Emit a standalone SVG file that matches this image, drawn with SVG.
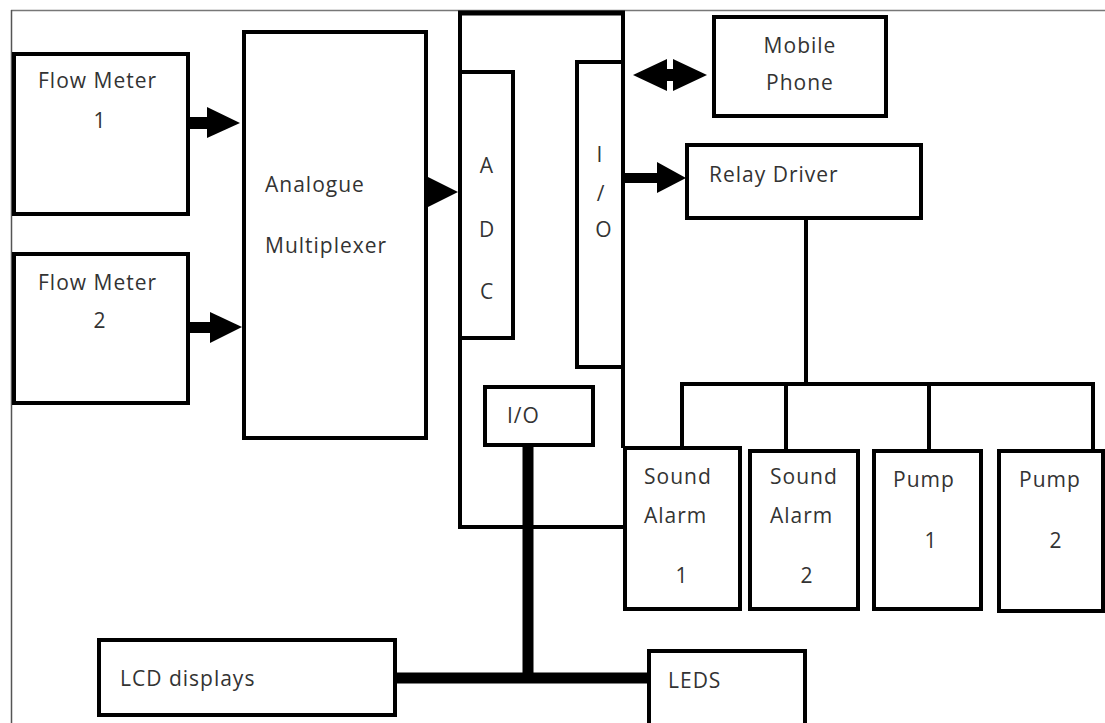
<svg xmlns="http://www.w3.org/2000/svg" width="1105" height="723" viewBox="0 0 1105 723">
<style>
  .box { fill: #ffffff; stroke: #000; stroke-width: 4; }
  .lbl { font-family: "Open Sans", "Noto Sans", sans-serif; font-size: 21px; fill: #333; letter-spacing: 1px; }
  .mid { text-anchor: middle; }
  .wire { fill: none; stroke: #000; stroke-width: 4; }
  .bus { fill: none; stroke: #000; stroke-width: 11; }
  .head { fill: #000; stroke: none; }
</style>
<rect x="0" y="0" width="1105" height="723" fill="#ffffff"/>
<g id="frame">
  <line x1="11" y1="10.5" x2="1105" y2="10.5" stroke="#777" stroke-width="1.5"/>
  <line x1="11.5" y1="10" x2="11.5" y2="723" stroke="#555" stroke-width="1.5"/>
</g>

<g id="controller">
  <path d="M623,448 V13 H460 V527 H623" fill="none" stroke="#000" stroke-width="4"/>
  <line x1="458" y1="13" x2="625" y2="13" stroke="#000" stroke-width="5"/>
</g>

<g id="flow-meter-1">
  <rect class="box" x="14" y="54" width="174" height="160"/>
  <text class="lbl" x="38" y="88">Flow Meter</text>
  <text class="lbl mid" x="100" y="128">1</text>
</g>
<g id="flow-meter-2">
  <rect class="box" x="14" y="254" width="174" height="149"/>
  <text class="lbl" x="38" y="290">Flow Meter</text>
  <text class="lbl mid" x="100" y="328">2</text>
</g>
<g id="analogue-multiplexer">
  <rect class="box" x="244" y="32" width="182" height="406"/>
  <text class="lbl" x="265" y="192">Analogue</text>
  <text class="lbl" x="265" y="253">Multiplexer</text>
</g>
<g id="adc">
  <rect class="box" x="460" y="72" width="53" height="266"/>
  <text class="lbl mid" x="487" y="173">A</text>
  <text class="lbl mid" x="487" y="237">D</text>
  <text class="lbl mid" x="487" y="299">C</text>
</g>
<g id="io-vertical">
  <rect class="box" x="577" y="62" width="46" height="305"/>
  <text class="lbl mid" x="600" y="162">I</text>
  <text class="lbl mid" x="601" y="201">/</text>
  <text class="lbl mid" x="604" y="237">O</text>
</g>
<g id="mobile-phone">
  <rect class="box" x="714" y="17" width="172" height="99"/>
  <text class="lbl mid" x="800" y="53">Mobile</text>
  <text class="lbl mid" x="800" y="90">Phone</text>
</g>
<g id="relay-driver">
  <rect class="box" x="687" y="145" width="234" height="73"/>
  <text class="lbl" x="709" y="182">Relay Driver</text>
</g>
<g id="io-small">
  <rect class="box" x="485" y="387" width="108" height="58"/>
  <text class="lbl" x="507" y="423">I/O</text>
</g>
<g id="sound-alarm-1">
  <rect class="box" x="625" y="448" width="115" height="161"/>
  <text class="lbl" x="644" y="484">Sound</text>
  <text class="lbl" x="644" y="523">Alarm</text>
  <text class="lbl mid" x="682" y="583">1</text>
</g>
<g id="sound-alarm-2">
  <rect class="box" x="750" y="451" width="108" height="158"/>
  <text class="lbl" x="770" y="484">Sound</text>
  <text class="lbl" x="770" y="523">Alarm</text>
  <text class="lbl mid" x="807" y="583">2</text>
</g>
<g id="pump-1">
  <rect class="box" x="874" y="451" width="107" height="158"/>
  <text class="lbl" x="893" y="487">Pump</text>
  <text class="lbl mid" x="931" y="548">1</text>
</g>
<g id="pump-2">
  <rect class="box" x="999" y="451" width="104" height="160"/>
  <text class="lbl" x="1019" y="487">Pump</text>
  <text class="lbl mid" x="1056" y="548">2</text>
</g>
<g id="lcd-displays">
  <rect class="box" x="99" y="640" width="296" height="75"/>
  <text class="lbl" x="120" y="686">LCD displays</text>
</g>
<g id="leds">
  <rect class="box" x="649" y="651" width="156" height="80"/>
  <text class="lbl" x="668" y="688">LEDS</text>
</g>

<g id="connectors">
  <rect class="head" x="188" y="117" width="21" height="12"/>
  <polygon class="head" points="207,107 240,123 207,138"/>
  <rect class="head" x="188" y="322" width="24" height="11"/>
  <polygon class="head" points="210,312 242,327 210,343"/>
  <polygon class="head" points="428,177 458,192 428,207"/>
  <polygon class="head" points="633,75 667,59 667,91"/>
  <polygon class="head" points="707,75 673,59 673,91"/>
  <rect class="head" x="665" y="69" width="10" height="12"/>
  <rect class="head" x="623" y="173" width="36" height="10"/>
  <polygon class="head" points="657,162 686,178 657,193"/>
  <line class="wire" x1="806" y1="218" x2="806" y2="384"/>
  <path class="wire" d="M682,448 V384 H1093 V451"/>
  <line class="wire" x1="786" y1="384" x2="786" y2="451"/>
  <line class="wire" x1="929" y1="384" x2="929" y2="451"/>
  <line class="bus" x1="528" y1="445" x2="528" y2="678"/>
  <line class="bus" x1="395" y1="678" x2="649" y2="678"/>
</g>
</svg>
